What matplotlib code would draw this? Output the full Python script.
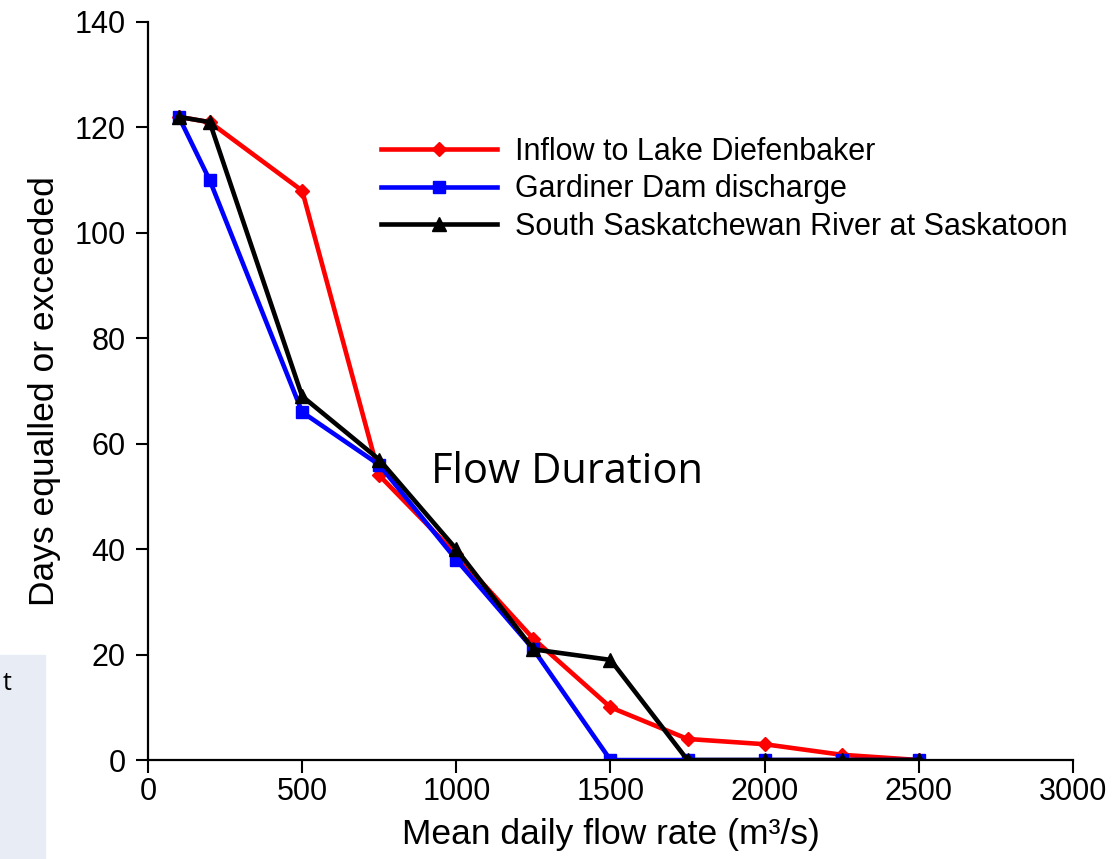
import numpy as np
import matplotlib.pyplot as plt
from matplotlib.patches import Rectangle

# flujo medio diario (m3/s)
flujo = [100, 200, 500, 750, 1000, 1250, 1500, 1750, 2000, 2250, 2500]
# dias igualados o excedidos
inflow_lago = [122, 121, 108, 54, 39, 23, 10, 4, 3, 1, 0]
descarga_presa = [122, 110, 66, 56, 38, 21, 0, 0, 0, 0, 0]
saskatoon = [122, 121, 69, 57, 40, 21, 19, 0, 0, 0, 0]

nombres = ['Inflow to Lake Diefenbaker',
           'Gardiner Dam discharge',
           'South Saskatchewan River at Saskatoon']

plt.rcParams['font.family'] = ['Liberation Sans', 'DejaVu Sans']

fig = plt.figure(figsize=(11.13, 8.59), dpi=100)
ax = fig.add_axes([0.133, 0.1152, 0.831, 0.8592])

ax.plot(flujo, inflow_lago, color='red', lw=3.3, marker='D', ms=7.5, label=nombres[0])
ax.plot(flujo, descarga_presa, color='blue', lw=3.3, marker='s', ms=9, label=nombres[1])
ax.plot(flujo, saskatoon, color='black', lw=3.3, marker='^', ms=10, label=nombres[2])

ax.set_xlim(0, 3000)
ax.set_ylim(0, 140)
ax.set_xticks(np.arange(0, 3001, 500))
ax.set_yticks(np.arange(0, 141, 20))
ax.tick_params(direction='out', length=9, width=1.5, labelsize=22)
ax.tick_params(axis='x', pad=3)
ax.tick_params(axis='y', pad=7)
for lado in ['top', 'right']:
    ax.spines[lado].set_visible(False)
for lado in ['left', 'bottom']:
    ax.spines[lado].set_linewidth(1.6)

ax.set_xlabel('Mean daily flow rate (m³/s)', fontsize=25.5, labelpad=8)
ax.set_ylabel('Days equalled or exceeded', fontsize=25.5, labelpad=10)

ax.legend(loc='upper left', bbox_to_anchor=(0.222, 0.882), frameon=False,
          fontsize=22, handlelength=3.8, labelspacing=0.25, handletextpad=0.6)

fig.text(0.387, 0.438, 'Flow Duration', fontsize=30, family='Open Sans')

# recuadro gris de la diapositiva
fig.patches.append(Rectangle((0, 0), 45/1113, 204/859, transform=fig.transFigure,
                             color='#e8edf5', zorder=0))
fig.text(0.002, 0.197, 't', fontsize=18, family='Open Sans')

fig.savefig('out.png', dpi=100)
